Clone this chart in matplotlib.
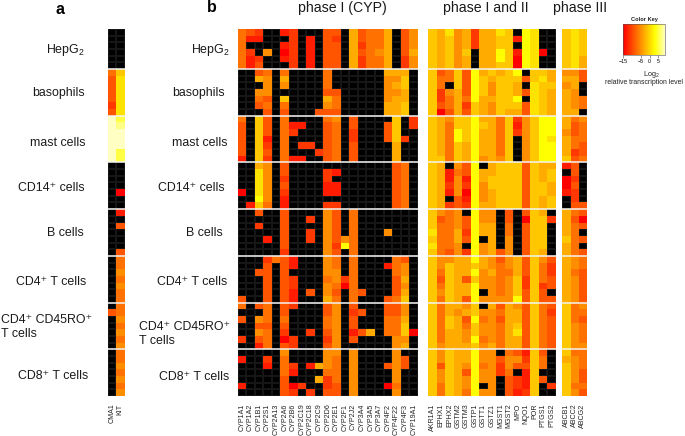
import numpy as np
import matplotlib
matplotlib.use("Agg")
import matplotlib.pyplot as plt
from matplotlib.colors import LinearSegmentedColormap, Normalize
from matplotlib.cm import ScalarMappable

plt.rcParams['font.family'] = ['Liberation Sans', 'DejaVu Sans']
plt.rcParams['mathtext.fontset'] = 'custom'
plt.rcParams['mathtext.rm'] = 'Liberation Sans'
plt.rcParams['mathtext.it'] = 'Liberation Sans'
plt.rcParams['mathtext.bf'] = 'Liberation Sans:bold'

W, H = 685, 436

genes_a = ["CMA1", "KIT"]
genes_p1 = ["CYP1A1", "CYP1A2", "CYP1B1", "CYP2S1", "CYP2A13", "CYP2A6", "CYP2B6", "CYP2C19", "CYP2C18", "CYP2C9",
            "CYP2D6", "CYP2E1", "CYP2F1", "CYP2J2", "CYP3A4", "CYP3A5", "CYP3A7", "CYP4F2", "CYP4F22", "CYP4F3", "CYP19A1"]
genes_p2 = ["AKR1A1", "EPHX1", "EPHX2", "GSTM2", "GSTM3", "GSTP1", "GSTT1", "GSTZ1", "MGST1", "MGST2", "MPO", "NQO1",
            "POR", "PTGS1", "PTGS2"]
genes_p3 = ["ABCB1", "ABCC2", "ABCG2"]

# Cell codes: '.' = not detected (black); hex digit d = log2 level -15 + 2*d
panel_a = [
    "..", "..", "..", "..", "..", "..",
    "47", "38", "38", "38", "38", "28", "38",
    "CA", "CB", "CC", "CC", "CC", "CA", "CA",
    "..", "..", "..", "..", ".0", "..", "..",
    ".1", "..", ".3", "..", "..", "..", ".3",
    ".4", ".4", ".5", ".4", ".5", ".4", ".4",
    ".4", "34", ".5", ".4", ".5", ".4", ".5",
    ".4", ".4", ".5", ".4", ".5", ".4", ".5",
]
phase1 = [
    # HepG2
    "432..12...33.63446.35", "411...2.1.32.63446.35", "4....12.1.33.62446.35",
    "42.5.02.1.33.63456.36", "412..12.1.33.62446.25", "413...2.1.33.62446.25",
    # basophils
    "..34.4....4......666.", "..65.6....4......557.", "...5.5....4......567.",
    "..55......33.....556.", "..43.7....64.....566.", "..34.4....54.....667.",
    "...3.3...333.....667.",
    # mast cells
    "4.73.4....45.3....7.2", "3.73.411..34.3...37.2", "3.73.42...34.2...37..",
    "3.71.4....34.2...372.", "3.72.4.22.34.3....6..", "3.73.4...234.3....6..",
    "1.72.411..34.3....6..",
    # CD14+
    "..65.3............34.", "..85.3....21......34.", "..85.2....2.......34.",
    "..85.3....11......34.", "0.85.2....11......34.", "..95.1............34.",
    ".174.1....22......34.",
    # B cells
    "..3..3....53.4.......", ".....3..2.53.4.......", "..2..3....53.4.......",
    ".....3..2.53.4...5...", "...1.3..2.5354.......", ".....3....5294.......",
    ".....2....53.4.......",
    # CD4+
    "...2431...54.4....43.", "...3.31...54.4...145.", "..33.3....55.4....45.",
    "...3.32...4524....36.", "...3.32...5404....35.", "...3.31.3.53.43...36.",
    "3..3.31...64.4...347.",
    # CD4+ CD45RO+
    "4.34.32...35.3...335.", "...4.3....35.23..335.", "3.54.4....45.3...446.",
    "..33.3....45.3...447.", "..54.2..2.35.136.4470", "2.34.02...25.3....55.",
    "..14.32...35......56.",
    # CD8+
    ".....5....55.5....5..", "1..2.4....54.5....53.", "...1.42.1654.5...353.",
    ".....41...44.5....5..", ".....3...624.5....5..", "1....302..23.5...04..",
    ".....32.2.33.5....5..",
]
phase2 = [
    # HepG2
    "7685626687.98..", "7675626677198..", "7675626677.98..",
    "76757.66971980.", "76756.6697098..", "76756.6677098..",
    # basophils
    "73473967679.776", "744739767773786", "74.73975776.877",
    "725639757763876", "72464966779.876", "734627657773876",
    "703637657663876",
    # mast cells
    "765779664725799", "764779764715799", "764979664725799",
    "7649796647.5798", "7647696647.5799", "7647696647.5799",
    "7747695657.5799",
    # CD14+
    "76.539.67773766", "761439667773767", "761519677773767",
    "762529577773776", "761509567773776", "76.319567773767",
    "762329667773767",
    # B cells
    "7545.955.3.376.", "73453955.3.0772", "74453966.4.377.",
    "84462966.4.377.", "744639.6.5.377.", "8445.956.5.377.",
    "7435295635.376.",
    # CD4+
    "755669653563753", "757667654563742", "747669564463742",
    "737637554572743", "747669554572723", "757669.5457373.",
    "747639555593733",
    # CD4+ CD45RO+
    "746657.63653743", "746567554663742", "747639453663743",
    "747647554673743", "746657554683743", "746659454663743",
    "756667564663743",
    # CD8+
    "75766955.43173.", "75766955355274.", "73765945253374.",
    "7576395524.17..", "75765955.32173.", "747659.5.3217.2",
    "74764955.3127..",
]
phase3 = [
    "787", "787", "787", "787", "786", "786",
    "553", "663", "56.", "65.", "654", "654", "66.",
    "645", "634", "534", "644", "643", "623", "734",
    "13.", ".3.", "02.", "03.", "12.", ".2.", ".33",
    "643", "630", "643", "64.", "743", "64.", "643",
    "654", "654", "643", "653", "653", "653", "653",
    "745", "744", "743", "754", "754", "754", "755",
    "744", "654", "754", "753", "753", "744", "753",
]

group_rows = [6, 7, 7, 7, 7, 7, 7, 7]
y_top, y_bot = 29.0, 396.0

SUP = "\u207a"
labels_a = [
    (85, 50, "right", r"HepG$_{\mathregular{2}}$"),
    (85, 93, "right", "basophils"),
    (85, 143, "right", "mast cells"),
    (85, 188, "right", f"CD14{SUP} cells"),
    (84, 233, "right", "B cells"),
    (86, 282, "right", f"CD4{SUP} T cells"),
    (1, 320, "left", f"CD4{SUP} CD45RO{SUP}"),
    (1, 334, "left", "T cells"),
    (88, 376, "right", f"CD8{SUP} T cells"),
]
labels_b = [
    (230, 50, "right", r"HepG$_{\mathregular{2}}$"),
    (225, 93, "right", "basophils"),
    (228, 143, "right", "mast cells"),
    (225, 188, "right", f"CD14{SUP} cells"),
    (223, 233, "right", "B cells"),
    (227, 282, "right", f"CD4{SUP} T cells"),
    (139, 327, "left", f"CD4{SUP} CD45RO{SUP}"),
    (139, 341, "left", "T cells"),
    (229, 377, "right", f"CD8{SUP} T cells"),
]

cmap = LinearSegmentedColormap.from_list(
    "heat", [(0, "#ff0000"), (0.75, "#ffff00"), (1, "#ffffc4")])
norm = Normalize(-15, 9)


def decode(rows):
    out = []
    for row in rows:
        out.append([np.nan if c == '.' else -15 + 2 * int(c, 16) for c in row])
    return np.array(out, dtype=float)


def pxaxes(x0, y0, x1, y1):
    return fig.add_axes([x0 / W, 1 - y1 / H, (x1 - x0) / W, (y1 - y0) / H])


def block(x0, x1, rows, genes):
    ax = pxaxes(x0, y_top, x1, y_bot)
    vals = decode(rows)
    n, m = vals.shape
    xe, ye = np.arange(m + 1), np.arange(n + 1)
    ax.pcolormesh(xe, ye, np.where(np.isnan(vals), 0.0, np.nan), cmap="gray", vmin=0, vmax=1,
                  edgecolors="#161616", linewidth=0.25)
    ax.pcolormesh(xe, ye, np.ma.masked_invalid(vals), cmap=cmap, norm=norm, edgecolors="none")
    ax.set_xlim(0, m)
    ax.set_ylim(n, 0)
    ax.set_yticks([])
    ax.set_xticks(np.arange(m) + 0.5)
    ax.set_xticklabels(genes, rotation=90, fontsize=5.1, color="#222222")
    ax.tick_params(axis='x', length=0, pad=7.5 * 72 / 100)
    for s in ax.spines.values():
        s.set_visible(False)
    for b in np.cumsum(group_rows)[:-1]:
        ax.axhline(b, color="#f4f4f4", lw=1.1)
    return ax


def t(x, y, s, **kw):
    kw.setdefault("va", "center")
    fig.text(x / W, 1 - y / H, s, **kw)


fig = plt.figure(figsize=(W / 100, H / 100), dpi=100, facecolor="white")

block(108.0, 124.5, panel_a, genes_a)
block(237.5, 418.0, phase1, genes_p1)
block(428.3, 555.7, phase2, genes_p2)
block(562.3, 587.0, phase3, genes_p3)

for x, y, ha, s in labels_a + labels_b:
    t(x, y, s, ha=ha, fontsize=8.9, color="#1a1a1a")

t(60, 9, "a", ha="center", fontsize=11.5, fontweight="bold")
t(212, 8, "b", ha="center", fontsize=11.5, fontweight="bold")
t(342.5, 8, "phase I (CYP)", ha="center", fontsize=10.2, color="#1a1a1a")
t(486, 8, "phase I and II", ha="center", fontsize=10.2, color="#1a1a1a")
t(580, 8, "phase III", ha="center", fontsize=10.2, color="#1a1a1a")

cax = pxaxes(623.3, 24.3, 665.3, 55)
cb = fig.colorbar(ScalarMappable(norm=norm, cmap=cmap), cax=cax, orientation="horizontal")
cb.set_ticks([-15, -5, 0, 5])
cb.set_ticklabels(["\u221215", "\u22125", "0", "5"])
cax.tick_params(axis='x', labelsize=3.8, length=2, width=0.4, pad=1.2, color="#444444")
cb.outline.set_linewidth(0.4)
cb.outline.set_edgecolor("#555555")
t(644, 19, "Color Key", ha="center", fontsize=4.1, fontweight="bold", color="#222222")
t(651, 74, r"Log$_{\mathregular{2}}$", ha="center", fontsize=5.2, color="#222222")
t(644, 82, "relative transcription level", ha="center", fontsize=4.95, color="#222222")

fig.savefig("out.png", dpi=100)
